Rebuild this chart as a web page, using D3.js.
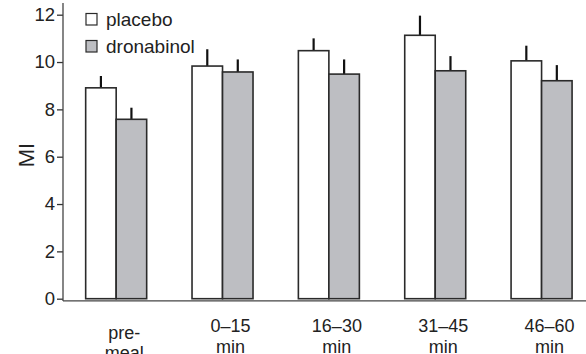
<!DOCTYPE html>
<html>
<head>
<meta charset="utf-8">
<script src="https://cdn.jsdelivr.net/npm/d3@7"></script>
<style>
  body { margin: 0; background: #fff; }
  text { font-family: "Liberation Sans", Arial, sans-serif; fill: #222; }
</style>
</head>
<body>
<script>
      // Data
      var categories = ["pre-meal", "0-15", "16-30", "31-45", "46-60"];
      var labelLines = [["pre-", "meal"], ["0\u201315", "min"], ["16\u201330", "min"], ["31\u201345", "min"], ["46\u201360", "min"]];
      var series = ["placebo", "dronabinol"];
      var placebo = [8.91, 9.83, 10.48, 11.13, 10.05];
      var placeboErr = [0.50, 0.71, 0.52, 0.83, 0.64];
      var dronabinol = [7.58, 9.58, 9.49, 9.63, 9.21];
      var dronabinolErr = [0.49, 0.53, 0.62, 0.62, 0.66];
      var yTicks = [0, 2, 4, 6, 8, 10, 12];

      var w = 586;
      var h = 354;
      var fills = {placebo: "#ffffff", dronabinol: "#bdbec2"};

      var svg = d3.select("body")
          .append("svg")
          .attr("width", w)
          .attr("height", h);

      // Scales
      var x0 = d3.scaleBand()
          .domain(categories)
          .range([63, 594.75])
          .paddingInner(0.4264)
          .paddingOuter(0.2132);

      var x1 = d3.scaleBand()
          .domain(series)
          .range([0, x0.bandwidth()]);

      var y = d3.scaleLinear()
          .domain([0, 12])
          .range([298.7, 14.7]);

      var rows = categories.map((c, i) => ({
        cat: c,
        vals: [
          {s: "placebo", v: placebo[i], e: placeboErr[i]},
          {s: "dronabinol", v: dronabinol[i], e: dronabinolErr[i]}
        ]
      }));

      // Bars with error stems
      var groups = svg.append("g")
          .selectAll("g")
          .data(rows)
          .enter().append("g")
          .attr("transform", d => `translate(${x0(d.cat)},0)`);

      groups.selectAll("line.err")
          .data(d => d.vals)
          .enter().append("line")
          .attr("class", "err")
          .attr("x1", d => x1(d.s) + x1.bandwidth() / 2)
          .attr("x2", d => x1(d.s) + x1.bandwidth() / 2)
          .attr("y1", d => y(d.v))
          .attr("y2", d => y(d.v + d.e))
          .attr("stroke", "#111")
          .attr("stroke-width", 2.2);

      groups.selectAll("rect")
          .data(d => d.vals)
          .enter().append("rect")
          .attr("x", d => x1(d.s))
          .attr("y", d => y(d.v))
          .attr("width", x1.bandwidth())
          .attr("height", d => y(0) - y(d.v))
          .attr("fill", d => fills[d.s])
          .attr("stroke", "#2a2a2a")
          .attr("stroke-width", 1.6);

      // Y axis
      var yAxis = svg.append("g")
          .attr("transform", "translate(63,0)")
          .call(d3.axisLeft(y).tickValues(yTicks).tickSize(6).tickPadding(2));

      yAxis.select(".domain").remove();
      yAxis.selectAll(".tick line").attr("stroke", "#333").attr("stroke-width", 1.3);
      yAxis.selectAll(".tick text")
          .attr("font-size", 18.5)
          .attr("font-family", "Liberation Sans, Arial, sans-serif")
          .attr("fill", "#222");

      svg.append("line")
          .attr("x1", 63).attr("x2", 63)
          .attr("y1", 3).attr("y2", 301)
          .attr("stroke", "#444").attr("stroke-width", 1.3);

      // X axis line
      svg.append("line")
          .attr("x1", 63).attr("x2", w)
          .attr("y1", 300.8).attr("y2", 300.8)
          .attr("stroke", "#444").attr("stroke-width", 1.3);

      // Category labels (second line runs off the bottom, as in the figure)
      var xl = svg.append("g")
          .selectAll("text")
          .data(categories)
          .enter().append("text")
          .attr("x", d => x0(d) + x0.bandwidth() / 2 + 8)
          .attr("y", (d, i) => i === 0 ? 338.5 : 332)
          .attr("text-anchor", "middle")
          .attr("font-size", 18);

      xl.selectAll("tspan")
          .data((d, i) => labelLines[i])
          .enter().append("tspan")
          .attr("x", function () { return this.parentNode.getAttribute("x"); })
          .attr("dy", (d, j) => j === 0 ? 0 : 20.5)
          .text(d => d);

      // Y axis title
      svg.append("text")
          .attr("transform", "translate(34,155) rotate(-90)")
          .attr("text-anchor", "middle")
          .attr("font-size", 22)
          .text("MI");

      // Legend
      var legend = svg.append("g")
          .selectAll("g")
          .data(series)
          .enter().append("g")
          .attr("transform", (d, i) => `translate(86,${13.5 + i * 27})`);

      legend.append("rect")
          .attr("width", 11)
          .attr("height", 11.5)
          .attr("fill", d => fills[d])
          .attr("stroke", "#2a2a2a")
          .attr("stroke-width", 1.2);

      legend.append("text")
          .attr("x", 20)
          .attr("y", 12)
          .attr("font-size", 19)
          .text(d => d);
</script>
</body>
</html>
